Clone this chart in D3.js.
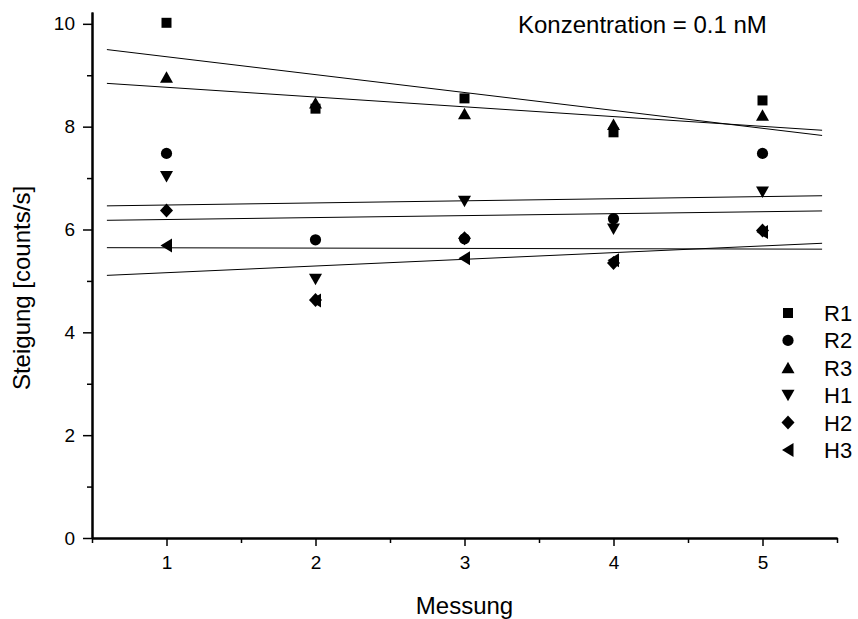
<!DOCTYPE html>
<html>
<head>
<meta charset="utf-8">
<script src="https://cdn.jsdelivr.net/npm/d3@7/dist/d3.min.js"></script>
<style>
  html, body { margin: 0; padding: 0; background: #fff; }
  svg { display: block; }
  text { font-family: "Liberation Sans", Arial, sans-serif; fill: #000; }
</style>
</head>
<body>
<svg id="chart" width="858" height="619"></svg>
<script>
// Measurement index (x) and slope values per sample (y)
const messung = [1, 2, 3, 4, 5];
const R1 = [10.02, 8.35, 8.55, 7.89, 8.51];
const R2 = [7.48, 5.80, 5.82, 6.21, 7.48];
const R3 = [8.96, 8.46, 8.25, 8.04, 8.22];
const H1 = [7.03, 5.03, 6.55, 6.01, 6.73];
const H2 = [6.37, 4.63, 5.83, 5.35, 5.98];
const H3 = [5.69, 4.62, 5.44, 5.40, 5.95];

const seriesNames = ["R1", "R2", "R3", "H1", "H2", "H3"];
const seriesValues = [R1, R2, R3, H1, H2, H3];
const symbolKinds = ["square", "circle", "triangleUp", "triangleDown", "diamond", "triangleLeft"];

const xMajorTicks = [1, 2, 3, 4, 5];
const xMinorTicks = [0.5, 1.5, 2.5, 3.5, 4.5, 5.5];
const yMajorTicks = [0, 2, 4, 6, 8, 10];
const yMinorTicks = [1, 3, 5, 7, 9];
const fitRange = [0.6, 5.4];

const annotation = "Konzentration = 0.1 nM";
const xTitle = "Messung";
const yTitle = "Steigung [counts/s]";

const svg = d3.select("#chart");
const x = d3.scaleLinear().domain([0.5, 5.5]).range([92, 837]);
const y = d3.scaleLinear().domain([0, 10.23]).range([538, 12]);

// Least squares linear fit
function linFit(xs, ys) {
  const mx = d3.mean(xs), my = d3.mean(ys);
  let sxy = 0, sxx = 0;
  xs.forEach((xi, i) => { sxy += (xi - mx) * (ys[i] - my); sxx += (xi - mx) * (xi - mx); });
  const b = sxy / sxx;
  return { a: my - b * mx, b };
}

// Fit lines
const line = d3.line().x(d => x(d[0])).y(d => y(d[1]));
seriesValues.forEach(vals => {
  const f = linFit(messung, vals);
  const pts = fitRange.map(t => [t, f.a + f.b * t]);
  svg.append("path").attr("d", line(pts))
    .attr("fill", "none").attr("stroke", "#000").attr("stroke-width", 1);
});

// Marker shapes (centered at 0,0)
function symbolPath(kind) {
  switch (kind) {
    case "square": return "M-5,-5H5V5H-5Z";
    case "circle": return d3.symbol(d3.symbolCircle, Math.PI * 5.6 * 5.6)();
    case "triangleUp": return "M0,-6L6.5,5.5L-6.5,5.5Z";
    case "triangleDown": return "M0,6L6.5,-5.5L-6.5,-5.5Z";
    case "diamond": return "M0,-7L6.5,0L0,7L-6.5,0Z";
    case "triangleLeft": return "M-6,0L5.5,-7L5.5,7Z";
  }
}

// Data points
seriesValues.forEach((vals, si) => {
  svg.append("g").selectAll("path").data(vals).join("path")
    .attr("d", symbolPath(symbolKinds[si]))
    .attr("transform", (d, i) => `translate(${x(messung[i])},${y(d)})`)
    .attr("fill", "#000");
});

// Axes
const axisStyle = g => {
  g.select(".domain").attr("stroke-width", 2);
  g.selectAll(".tick line").attr("stroke-width", 1.5);
  g.selectAll(".tick text").style("font-family", "'Liberation Sans', Arial, sans-serif")
    .style("font-size", "19px").attr("fill", "#000");
};

svg.append("g").attr("transform", `translate(0,${y(0)})`)
  .call(d3.axisBottom(x).tickValues(xMinorTicks).tickSize(5).tickSizeOuter(0).tickFormat(""))
  .call(axisStyle);
svg.append("g").attr("transform", `translate(0,${y(0)})`)
  .call(d3.axisBottom(x).tickValues(xMajorTicks).tickSize(8).tickSizeOuter(0).tickPadding(10).tickFormat(d3.format("d")))
  .call(axisStyle);

svg.append("g").attr("transform", `translate(${x(0.5)},0)`)
  .call(d3.axisLeft(y).tickValues(yMinorTicks).tickSize(5).tickSizeOuter(0).tickFormat(""))
  .call(axisStyle);
svg.append("g").attr("transform", `translate(${x(0.5)},0)`)
  .call(d3.axisLeft(y).tickValues(yMajorTicks).tickSize(9).tickSizeOuter(0).tickPadding(8).tickFormat(d3.format("d")))
  .call(axisStyle);

// Titles
svg.append("text").attr("x", 464.5).attr("y", 614).attr("text-anchor", "middle")
  .style("font-size", "24px").text(xTitle);
svg.append("text").attr("transform", "translate(30,288) rotate(-90)").attr("text-anchor", "middle")
  .style("font-size", "24px").text(yTitle);
svg.append("text").attr("x", 518).attr("y", 33)
  .style("font-size", "24px").text(annotation);

// Legend
const legend = svg.append("g");
seriesNames.forEach((name, i) => {
  const cy = 313 + i * 27.4;
  legend.append("path").attr("d", symbolPath(symbolKinds[i]))
    .attr("transform", `translate(788,${cy})`).attr("fill", "#000");
  legend.append("text").attr("x", 824).attr("y", cy + 8)
    .style("font-size", "22px").text(name);
});
</script>
</body>
</html>
